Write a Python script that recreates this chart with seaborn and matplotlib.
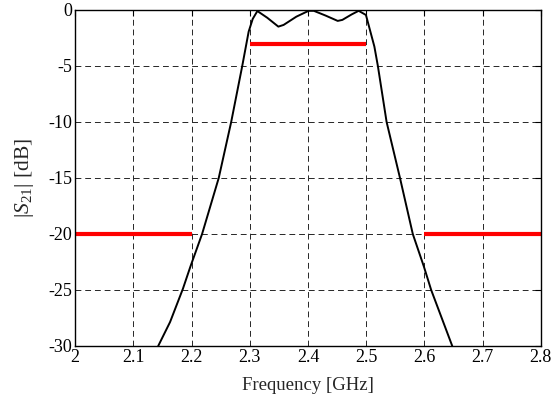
import matplotlib
matplotlib.use("Agg")
import matplotlib.pyplot as plt
import seaborn as sns
import pandas as pd

# Filter response |S21| (dB) vs frequency (GHz)
freq = [2.1426, 2.163, 2.185, 2.198, 2.218, 2.2466, 2.268, 2.287, 2.298, 2.305,
        2.313, 2.330, 2.349, 2.358, 2.380, 2.401, 2.410, 2.430, 2.451, 2.459,
        2.475, 2.487, 2.4995, 2.514, 2.520, 2.535, 2.558, 2.580, 2.599, 2.6116, 2.6478]
s21 = [-30, -27.86, -24.9, -22.9, -20, -15, -10, -5, -1.94, -0.8,
       -0.1, -0.7, -1.49, -1.34, -0.6, -0.08, -0.08, -0.5, -0.98, -0.89,
       -0.4, -0.08, -0.45, -3.27, -5, -10, -15, -20, -22.9, -25, -30]

# Specification masks
mask_x = [[2.0, 2.2], [2.3, 2.5], [2.6, 2.8]]
mask_y = [[-20, -20], [-3, -3], [-20, -20]]

xticks = [2.0, 2.1, 2.2, 2.3, 2.4, 2.5, 2.6, 2.7, 2.8]
xticklabels = ["2", "2.1", "2.2", "2.3", "2.4", "2.5", "2.6", "2.7", "2.8"]
yticks = [0, -5, -10, -15, -20, -25, -30]
yticklabels = ["0", "-5", "-10", "-15", "-20", "-25", "-30"]

sns.set_style("white")
plt.rcParams["font.family"] = ["Liberation Serif", "DejaVu Serif"]
plt.rcParams["mathtext.fontset"] = "custom"
plt.rcParams["mathtext.rm"] = "Liberation Serif"
plt.rcParams["mathtext.it"] = "Liberation Serif:italic"
plt.rcParams["axes.unicode_minus"] = False

fig = plt.figure(figsize=(5.53, 3.97), dpi=100)
ax = fig.add_axes([0.136, 0.1285, 0.842, 0.8465])

df = pd.DataFrame({"f": freq, "s": s21})
sns.lineplot(data=df, x="f", y="s", ax=ax, color="black", linewidth=1.4,
             sort=False, estimator=None)

for mx, my in zip(mask_x, mask_y):
    mdf = pd.DataFrame({"f": mx, "s": my})
    sns.lineplot(data=mdf, x="f", y="s", ax=ax, color="#ff0000", linewidth=3.0,
                 sort=False, estimator=None, solid_capstyle="butt")

ax.set_xlim(2.0, 2.8)
ax.set_ylim(-30, 0)
ax.set_xticks(xticks)
ax.set_xticklabels(xticklabels)
ax.set_yticks(yticks)
ax.set_yticklabels(yticklabels)

ax.grid(True, color="0.15", linestyle=(0, (6, 4)), linewidth=0.7)
ax.set_axisbelow(True)

for sp in ax.spines.values():
    sp.set_visible(True)
    sp.set_color("black")
    sp.set_linewidth(1.0)

ax.tick_params(direction="in", length=4, width=0.8, top=True, right=True,
               labelsize=13, pad=2, colors="black")

ax.set_xlabel("Frequency [GHz]", fontsize=13.5, labelpad=8)
ax.set_ylabel(r"$|S_{21}|$ [dB]", fontsize=15.5, labelpad=9)

fig.savefig("out.png", dpi=100)
